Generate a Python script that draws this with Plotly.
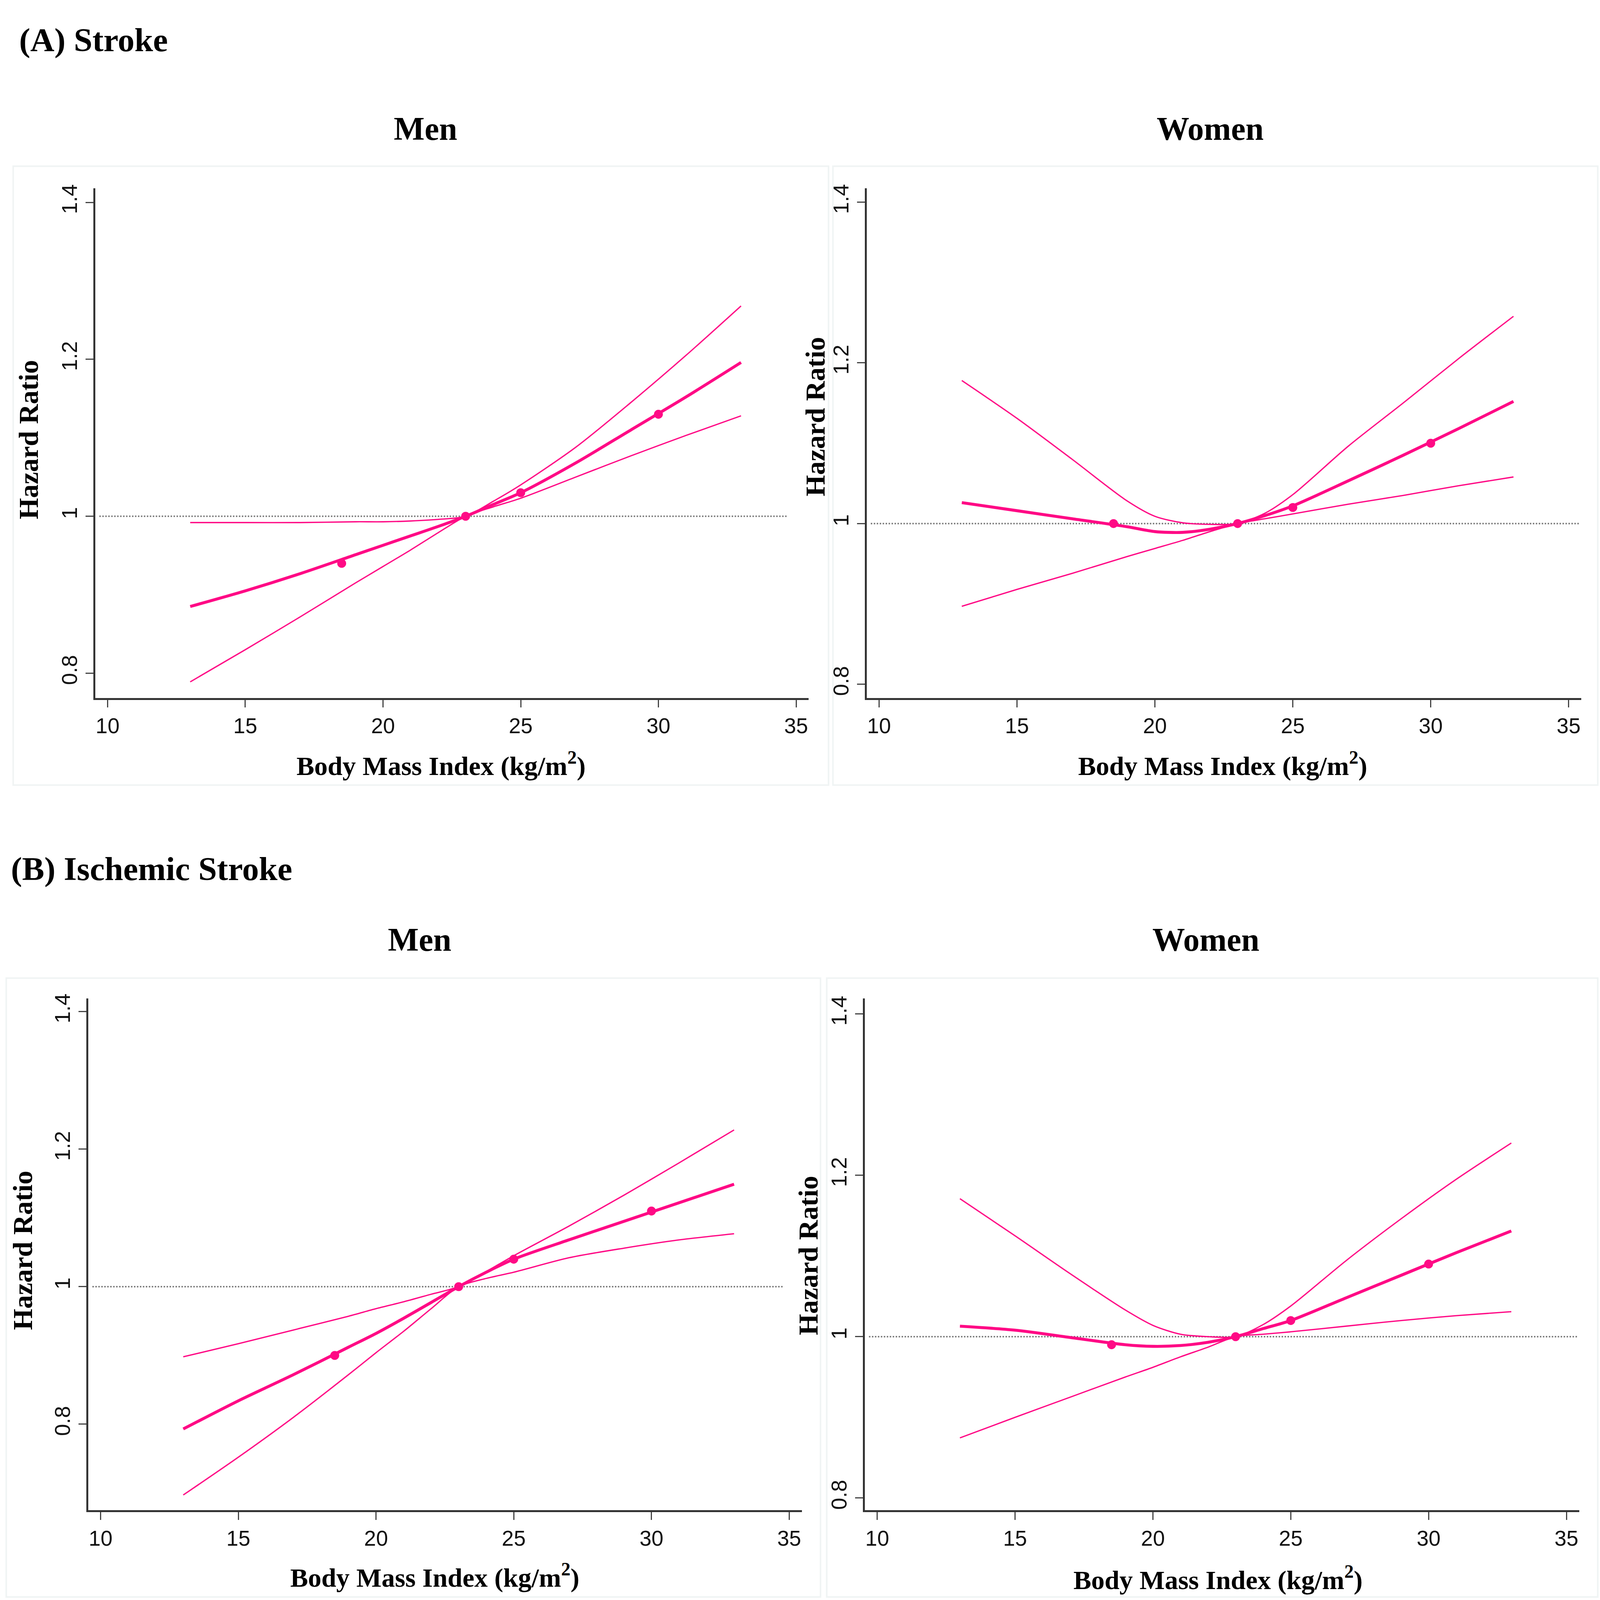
import plotly.graph_objects as go

# ---------------- data ----------------
bmi = [13, 15, 17, 19, 20, 21, 22, 23, 24, 25, 27, 29, 31, 33]

# (A) Stroke - Men
a_men_hr = [0.885, 0.905, 0.927, 0.951, 0.963, 0.975, 0.987, 1.000, 1.015, 1.030, 1.068, 1.110, 1.152, 1.196]
a_men_hi = [0.992, 0.992, 0.992, 0.993, 0.993, 0.994, 0.996, 1.000, 1.019, 1.040, 1.088, 1.145, 1.205, 1.268]
a_men_lo = [0.789, 0.830, 0.872, 0.915, 0.936, 0.957, 0.979, 1.000, 1.012, 1.023, 1.050, 1.077, 1.103, 1.128]
# (A) Stroke - Women
a_wom_hr = [1.026, 1.016, 1.006, 0.996, 0.990, 0.989, 0.993, 1.000, 1.010, 1.022, 1.053, 1.085, 1.118, 1.152]
a_wom_hi = [1.178, 1.131, 1.080, 1.028, 1.009, 1.001, 0.999, 1.000, 1.013, 1.036, 1.096, 1.150, 1.205, 1.258]
a_wom_lo = [0.897, 0.918, 0.938, 0.959, 0.969, 0.979, 0.990, 1.000, 1.006, 1.012, 1.024, 1.035, 1.047, 1.058]
# (B) Ischemic Stroke - Men
b_men_hr = [0.793, 0.834, 0.872, 0.912, 0.932, 0.954, 0.977, 1.000, 1.021, 1.040, 1.068, 1.095, 1.122, 1.149]
b_men_hi = [0.898, 0.917, 0.937, 0.957, 0.968, 0.978, 0.989, 1.000, 1.022, 1.045, 1.088, 1.133, 1.180, 1.228]
b_men_lo = [0.697, 0.752, 0.810, 0.872, 0.904, 0.935, 0.968, 1.000, 1.012, 1.021, 1.042, 1.056, 1.068, 1.077]
# (B) Ischemic Stroke - Women
b_wom_hr = [1.013, 1.008, 0.999, 0.990, 0.988, 0.989, 0.993, 1.000, 1.010, 1.020, 1.048, 1.076, 1.104, 1.131]
b_wom_hi = [1.171, 1.125, 1.078, 1.033, 1.014, 1.003, 1.000, 1.000, 1.015, 1.038, 1.094, 1.146, 1.195, 1.240]
b_wom_lo = [0.8745, 0.900, 0.925, 0.950, 0.962, 0.975, 0.987, 1.000, 1.003, 1.006, 1.013, 1.020, 1.026, 1.031]

# category-point estimates
pt_bmi = [18.5, 23, 25, 30]
a_men_pts = [0.94, 1.00, 1.03, 1.13]
a_wom_pts = [1.00, 1.00, 1.02, 1.10]
b_men_pts = [0.90, 1.00, 1.04, 1.11]
b_wom_pts = [0.99, 1.00, 1.02, 1.09]

x_ticks = [10, 15, 20, 25, 30, 35]
y_ticks = [0.8, 1.0, 1.2, 1.4]
y_ticktext = ["0.8", "1", "1.2", "1.4"]

section_titles = ["(A) Stroke", "(B) Ischemic Stroke"]
panel_titles = ["Men", "Women", "Men", "Women"]
x_title = "Body Mass Index (kg/m<sup>2</sup>)"
y_title = "Hazard Ratio"

# ---------------- layout geometry ----------------
# positions are measured on the 4370x4206 reference and expressed as paper fractions;
# the browser viewport is 4096x4096, so the figure is drawn at that size.
REF_W, REF_H = 4370, 4206
FIG_W, FIG_H = 4096, 4096
S = 0.95  # size scale for fonts / strokes
PINK = "#FF0A85"
SERIF = "Liberation Serif"
SANS = "Liberation Sans"

def px_x(p):
    return p / REF_W

def px_y(p):
    return 1 - p / REF_H

panels = [
    dict(hr=a_men_hr, hi=a_men_hi, lo=a_men_lo, pts=a_men_pts,
         xd=(260, 2209), yd=(483, 1827), yr=(0.7686, 1.418), ref_end=34.7,
         title_xy=(1162, 327), ytitle_xy=(78, 1146), xtitle_xy=(1204, 2001),
         bg=(36, 425, 2263, 2057)),
    dict(hr=a_wom_hr, hi=a_wom_hi, lo=a_wom_lo, pts=a_wom_pts,
         xd=(2367, 4319), yd=(483, 1827), yr=(0.783, 1.4174), ref_end=35.4,
         title_xy=(3305, 327), ytitle_xy=(2227, 1085), xtitle_xy=(3339, 2001),
         bg=(2275, 425, 4364, 2057)),
    dict(hr=b_men_hr, hi=b_men_hi, lo=b_men_lo, pts=b_men_pts,
         xd=(241, 2190), yd=(2620, 3969), yr=(0.675, 1.419), ref_end=34.8,
         title_xy=(1146, 2465), ytitle_xy=(62, 3284), xtitle_xy=(1187, 4142),
         bg=(17, 2566, 2241, 4198)),
    dict(hr=b_wom_hr, hi=b_wom_hi, lo=b_wom_lo, pts=b_wom_pts,
         xd=(2362, 4313), yd=(2620, 3969), yr=(0.785, 1.419), ref_end=35.4,
         title_xy=(3294, 2465), ytitle_xy=(2207, 3298), xtitle_xy=(3327, 4148),
         bg=(2258, 2566, 4364, 4198)),
]

fig = go.Figure()
annotations = []
shapes = []

for i, p in enumerate(panels):
    n = "" if i == 0 else str(i + 1)
    xa, ya = "x" + n, "y" + n
    fig.add_trace(go.Scatter(x=[9.7, p["ref_end"]], y=[1, 1], mode="lines", xaxis=xa, yaxis=ya,
                             line=dict(color="#7a7a7a", width=4 * S, dash="dot"),
                             hoverinfo="skip", showlegend=False))
    for key in ("hi", "lo"):
        fig.add_trace(go.Scatter(x=bmi, y=p[key], mode="lines", xaxis=xa, yaxis=ya,
                                 line=dict(color=PINK, width=3.5 * S, shape="spline", smoothing=0.8),
                                 showlegend=False))
    fig.add_trace(go.Scatter(x=bmi, y=p["hr"], mode="lines", xaxis=xa, yaxis=ya,
                             line=dict(color=PINK, width=8 * S, shape="spline", smoothing=0.8),
                             showlegend=False))
    fig.add_trace(go.Scatter(x=pt_bmi, y=p["pts"], mode="markers", xaxis=xa, yaxis=ya,
                             marker=dict(color=PINK, size=24 * S, line=dict(width=0)),
                             showlegend=False))

    axis_common = dict(showline=True, linecolor="#333333", linewidth=5 * S, ticks="outside",
                       ticklen=20, tickwidth=3, tickcolor="#444444", showgrid=False,
                       zeroline=False, tickfont=dict(family=SANS, size=55, color="#111111"))
    fig.update_layout(**{
        "xaxis" + n: dict(domain=[px_x(p["xd"][0]), px_x(p["xd"][1])], range=[9.55, 35.46],
                          tickvals=x_ticks, anchor=ya, **axis_common),
        "yaxis" + n: dict(domain=[px_y(p["yd"][1]), px_y(p["yd"][0])], range=list(p["yr"]),
                          tickvals=y_ticks, ticktext=y_ticktext, tickangle=-90,
                          anchor=xa, **axis_common),
    })

    annotations.append(dict(text="<b>" + panel_titles[i] + "</b>", x=px_x(p["title_xy"][0]),
                            y=px_y(p["title_xy"][1]), xref="paper", yref="paper", showarrow=False,
                            xanchor="center", yanchor="middle",
                            font=dict(family=SERIF, size=88 * S, color="black")))
    annotations.append(dict(text="<b>" + y_title + "</b>", x=px_x(p["ytitle_xy"][0]),
                            y=px_y(p["ytitle_xy"][1]), xref="paper", yref="paper", showarrow=False,
                            textangle=-90, xanchor="center", yanchor="middle",
                            font=dict(family=SERIF, size=74 * S, color="black")))
    annotations.append(dict(text="<b>" + x_title + "</b>", x=px_x(p["xtitle_xy"][0]),
                            y=px_y(p["xtitle_xy"][1]), xref="paper", yref="paper", showarrow=False,
                            xanchor="center", yanchor="middle",
                            font=dict(family=SERIF, size=72 * S, color="black")))
    bx0, by0, bx1, by1 = p["bg"]
    shapes.append(dict(type="rect", xref="paper", yref="paper", x0=px_x(bx0), x1=px_x(bx1),
                       y0=px_y(by1), y1=px_y(by0), line=dict(color="#f0f4f4", width=4),
                       fillcolor="rgba(0,0,0,0)", layer="below"))

annotations.append(dict(text="<b>" + section_titles[0] + "</b>", x=px_x(50), y=px_y(92),
                        xref="paper", yref="paper", showarrow=False, xanchor="left", yanchor="middle",
                        font=dict(family=SERIF, size=90 * S, color="black")))
annotations.append(dict(text="<b>" + section_titles[1] + "</b>", x=px_x(28), y=px_y(2278),
                        xref="paper", yref="paper", showarrow=False, xanchor="left", yanchor="middle",
                        font=dict(family=SERIF, size=90 * S, color="black")))

fig.update_layout(width=FIG_W, height=FIG_H, margin=dict(l=0, r=0, t=0, b=0),
                  paper_bgcolor="white", plot_bgcolor="white",
                  annotations=annotations, shapes=shapes, showlegend=False)

post = """
document.body.style.margin = '0';
document.documentElement.style.margin = '0';
document.body.style.overflow = 'hidden';
"""

fig.write_html("out.html", post_script=post, config={"displayModeBar": False})
